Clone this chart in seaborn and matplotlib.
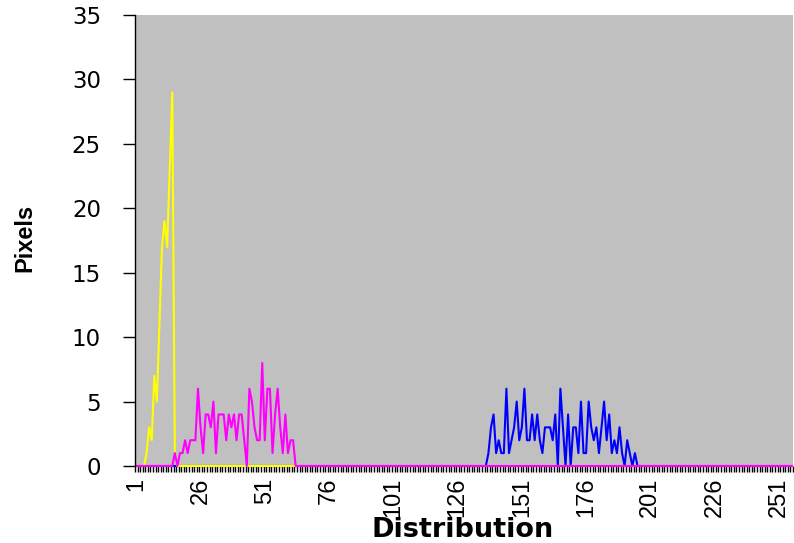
import numpy as np
import pandas as pd
import matplotlib
matplotlib.use("Agg")
import matplotlib.pyplot as plt
import seaborn as sns

# ---------------- data ----------------
categories = np.arange(1, 257)          # distribution bins 1..256

yellow_start = 1
yellow_values = [0, 0, 0, 0, 1, 3, 2, 7, 5, 11, 17, 19, 17, 23, 29, 1, 0]

magenta_start = 15
magenta_values = [0, 1, 0, 1, 1, 2, 1, 2, 2, 2, 6, 3, 1, 4, 4, 3, 5, 1, 4, 4,
                  4, 2, 4, 3, 4, 2, 4, 4, 2, 0, 6, 5, 3, 2, 2, 8, 2, 6, 6, 1,
                  4, 6, 3, 1, 4, 1, 2, 2, 0]

blue_start = 137
blue_values = [0, 1, 3, 4, 1, 2, 1, 1, 6, 1, 2, 3, 5, 2, 3, 6, 2, 2, 4, 2,
               4, 2, 1, 3, 3, 3, 2, 4, 0, 6, 3, 0, 4, 0, 3, 3, 1, 5, 1, 1,
               5, 3, 2, 3, 1, 3, 5, 2, 4, 1, 2, 1, 3, 1, 0, 2, 1, 0, 1, 0]

x_tick_values = list(range(1, 257, 25))
x_tick_labels = [str(v) for v in x_tick_values]
y_tick_values = [0, 5, 10, 15, 20, 25, 30, 35]

series_names = ["Blue", "Yellow", "Magenta"]   # drawing order (bottom -> top)
series_colors = ["#0000FF", "#FFFF00", "#FF00FF"]


def full_series(start, vals):
    arr = np.zeros(len(categories))
    arr[start - 1:start - 1 + len(vals)] = vals
    return arr


series_data = {
    "Blue": full_series(blue_start, blue_values),
    "Yellow": full_series(yellow_start, yellow_values),
    "Magenta": full_series(magenta_start, magenta_values),
}

df = pd.concat(
    [pd.DataFrame({"Distribution": categories, "Pixels": series_data[n], "Series": n})
     for n in series_names],
    ignore_index=True,
)

# ---------------- figure ----------------
W, H = 794, 543
fig = plt.figure(figsize=(W / 100, H / 100), dpi=100, facecolor="white")
ax = fig.add_axes([135 / W, 77 / H, 658 / W, 451 / H])
ax.set_facecolor("#C0C0C0")

sns.lineplot(data=df, x="Distribution", y="Pixels", hue="Series",
             hue_order=series_names, palette=series_colors,
             estimator=None, linewidth=1.5, legend=False, ax=ax)

z_by_color = {"#0000ff": 2.1, "#ffff00": 2.2, "#ff00ff": 2.3}
for ln in ax.lines:
    ln.set_clip_on(False)
    c = matplotlib.colors.to_hex(ln.get_color()).lower()
    ln.set_zorder(z_by_color.get(c, 2.0))

ax.set_xlim(0.5, 256.5)
ax.set_ylim(0, 35)

for s in ["top", "right", "bottom"]:
    ax.spines[s].set_visible(False)
ax.spines["left"].set_color("black")
ax.spines["left"].set_linewidth(1.0)

# category boundary tick marks
ax.set_xticks(np.arange(0.5, 257, 1.0))
ax.set_xticklabels([])
ax.tick_params(axis="x", which="major", length=4.5, width=1.0, color="black",
               direction="out")
# category labels
ax.set_xticks(x_tick_values, minor=True)
ax.set_xticklabels(x_tick_labels, minor=True, rotation=90,
                   fontsize=17, family="Liberation Sans")
ax.tick_params(axis="x", which="minor", length=0, pad=8.5)

ax.set_yticks(y_tick_values)
ax.set_yticklabels([str(v) for v in y_tick_values], fontsize=16.5,
                   family="DejaVu Sans")
ax.tick_params(axis="y", length=8.5, width=1.0, color="black", pad=16)

ax.set_xlabel("")
ax.set_ylabel("")

fig.text(25 / W, 1 - 238 / H, "Pixels", rotation=90, ha="center", va="center",
         fontsize=17, fontweight="bold", family="Liberation Sans")
fig.text(463 / W, 1 - 530 / H, "Distribution", ha="center", va="center",
         fontsize=19.5, fontweight="bold", family="DejaVu Sans")

fig.savefig("out.png", dpi=100, facecolor="white")
